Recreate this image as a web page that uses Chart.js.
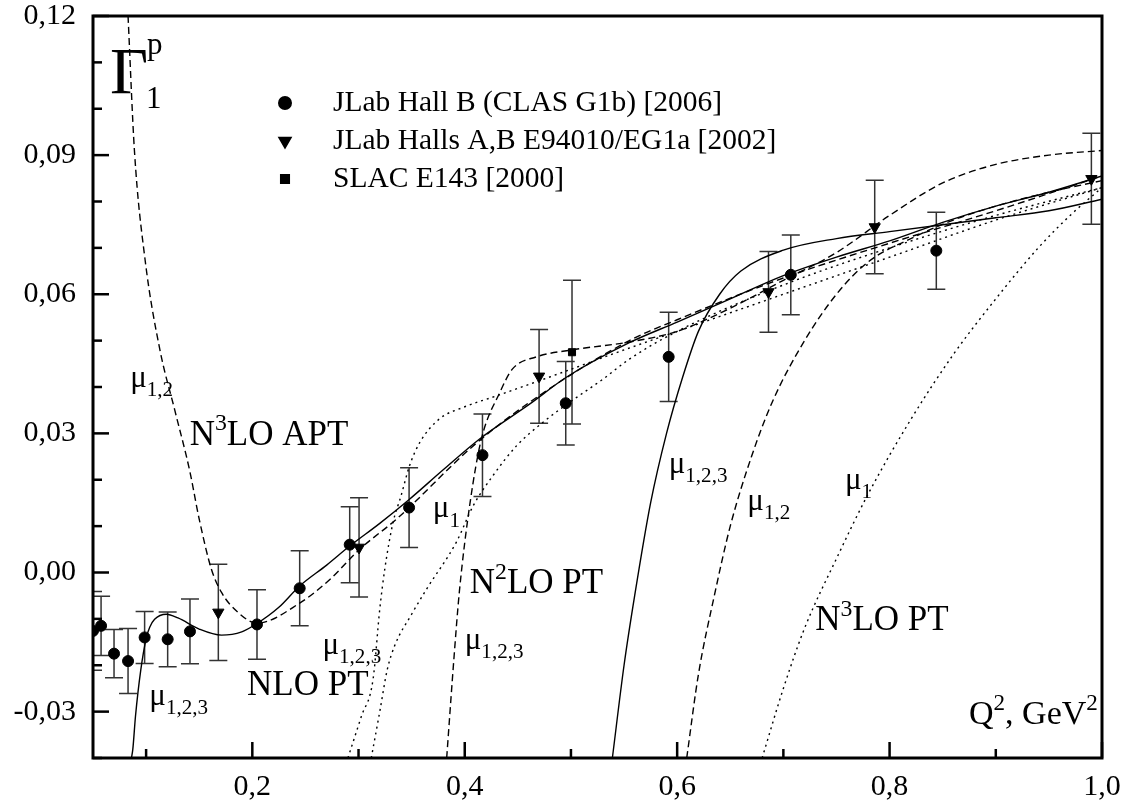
<!DOCTYPE html>
<html>
<head>
<meta charset="utf-8">
<script src="https://cdn.jsdelivr.net/npm/chart.js@4/dist/chart.umd.min.js"></script>
<style>
  html, body { margin: 0; padding: 0; background: #fff; }
  #wrap { width: 1130px; height: 811px; }
</style>
</head>
<body>
<div id="wrap"><canvas id="chart" width="1130" height="811"></canvas></div>
<script>
// ---------- data ----------

// JLab Hall B (CLAS EG1b) [2006]
const clasQ2  = [0.050, 0.0576, 0.0698, 0.0830, 0.0986, 0.1203, 0.1413, 0.2044, 0.2446, 0.2917, 0.3476, 0.4167, 0.4951, 0.592, 0.707, 0.844];
const clasG1  = [-0.0126, -0.0115, -0.0175, -0.0191, -0.0140, -0.0144, -0.0127, -0.0112, -0.0034, 0.0060, 0.0140, 0.0253, 0.0365, 0.0465, 0.0642, 0.0694];
const clasErr = [0.0085, 0.0064, 0.0052, 0.0070, 0.0056, 0.0059, 0.0070, 0.0075, 0.0081, 0.0082, 0.0086, 0.0089, 0.0090, 0.0096, 0.0086, 0.0083];

// JLab Halls A,B E94010/EG1a [2002]
const eg1aQ2  = [0.168, 0.3005, 0.470, 0.686, 0.786, 0.990];
const eg1aG1  = [-0.0086, 0.0054, 0.0423, 0.0605, 0.0745, 0.0849];
const eg1aErr = [0.0104, 0.0107, 0.0101, 0.0087, 0.0101, 0.0098];

// SLAC E143 [2000]
const slacQ2  = [0.501];
const slacG1  = [0.0475];
const slacErr = [0.0155];

// curves
const aptSolidQ2 = [0.0862, 0.0875, 0.090, 0.095, 0.1003, 0.1034, 0.108, 0.119, 0.130, 0.150, 0.171, 0.190, 0.2044, 0.225, 0.2446, 0.270, 0.2917, 0.320, 0.348, 0.380, 0.414, 0.461, 0.4957, 0.5554, 0.60, 0.65, 0.70, 0.75, 0.80, 0.85, 0.90, 0.95, 1.00];
const aptSolidG1 = [-0.0400, -0.0381, -0.031, -0.021, -0.0140, -0.0118, -0.0101, -0.0090, -0.0098, -0.0122, -0.0135, -0.0128, -0.0110, -0.0075, -0.0029, 0.0016, 0.0057, 0.0106, 0.0158, 0.0222, 0.0288, 0.0363, 0.0421, 0.0496, 0.0540, 0.0590, 0.0640, 0.0680, 0.0715, 0.0755, 0.0790, 0.0820, 0.0855];

const aptDashQ2 = [0.083, 0.089, 0.099, 0.113, 0.127, 0.141, 0.150, 0.1615, 0.171, 0.1865, 0.2044, 0.2446, 0.273, 0.301, 0.3357, 0.408, 0.461, 0.555, 0.60, 0.70, 0.80, 0.90, 1.00];
const aptDashG1 = [0.120, 0.091, 0.0675, 0.048, 0.035, 0.022, 0.0115, 0.0007, -0.0043, -0.0086, -0.0109, -0.0066, -0.0015, 0.0050, 0.0115, 0.0273, 0.0367, 0.0500, 0.0545, 0.0635, 0.0710, 0.0780, 0.0855];

const nloDotQ2 = [0.290, 0.3027, 0.3137, 0.320, 0.3247, 0.3325, 0.340, 0.348, 0.3576, 0.376, 0.3985, 0.430, 0.461, 0.4926, 0.55, 0.60, 0.70, 0.80, 0.90, 1.00];
const nloDotG1 = [-0.040, -0.031, -0.023, -0.0079, 0.0007, 0.0108, 0.0165, 0.0230, 0.0280, 0.0331, 0.0356, 0.0381, 0.0406, 0.0432, 0.0480, 0.0520, 0.0600, 0.0680, 0.0760, 0.0830];

const n2loDotQ2 = [0.312, 0.320, 0.327, 0.334, 0.350, 0.364, 0.392, 0.408, 0.4266, 0.4487, 0.4737, 0.4988, 0.5302, 0.555, 0.60, 0.70, 0.80, 0.90, 1.00];
const n2loDotG1 = [-0.040, -0.030, -0.021, -0.0158, -0.0090, -0.0036, 0.0065, 0.0144, 0.0209, 0.0273, 0.0324, 0.0367, 0.0417, 0.0460, 0.0520, 0.0620, 0.0700, 0.0770, 0.0830];

const n2loDashQ2 = [0.383, 0.390, 0.395, 0.405, 0.4157, 0.433, 0.445, 0.4675, 0.5008, 0.555, 0.60, 0.65, 0.70, 0.75, 0.80, 0.85, 0.90, 0.95, 1.00];
const n2loDashG1 = [-0.040, -0.018, -0.004, 0.015, 0.0288, 0.0388, 0.0439, 0.0465, 0.0480, 0.0497, 0.0520, 0.0570, 0.0630, 0.0690, 0.0770, 0.0840, 0.0880, 0.0900, 0.0910];

const n3loSolidQ2 = [0.539, 0.550, 0.560, 0.575, 0.590, 0.605, 0.620, 0.640, 0.660, 0.700, 0.750, 0.800, 0.850, 0.900, 0.950, 1.000];
const n3loSolidG1 = [-0.040, -0.020, -0.005, 0.015, 0.030, 0.042, 0.052, 0.060, 0.065, 0.0695, 0.0720, 0.0735, 0.0750, 0.0765, 0.0780, 0.0805];

const n3loDashQ2 = [0.609, 0.620, 0.635, 0.650, 0.670, 0.690, 0.720, 0.750, 0.780, 0.820, 0.860, 0.900, 0.950, 1.000];
const n3loDashG1 = [-0.040, -0.022, -0.005, 0.010, 0.025, 0.037, 0.050, 0.060, 0.067, 0.072, 0.076, 0.079, 0.082, 0.0845];

const n3loDotQ2 = [0.680, 0.700, 0.720, 0.750, 0.780, 0.820, 0.860, 0.900, 0.940, 0.970, 1.000];
const n3loDotG1 = [-0.040, -0.025, -0.012, 0.003, 0.017, 0.033, 0.047, 0.059, 0.070, 0.077, 0.083];

// axis ticks
const xTicks = [0.1, 0.2, 0.3, 0.4, 0.5, 0.6, 0.7, 0.8, 0.9, 1.0];
const xMajor = [0.2, 0.4, 0.6, 0.8, 1.0];
const yTicks = [-0.04, -0.03, -0.02, -0.01, 0.00, 0.01, 0.02, 0.03, 0.04, 0.05, 0.06, 0.07, 0.08, 0.09, 0.10, 0.11, 0.12];
const yMajor = [-0.03, 0.00, 0.03, 0.06, 0.09, 0.12];

// legend entries
const legendLabels = ['JLab Hall B (CLAS G1b) [2006]', 'JLab Halls A,B E94010/EG1a [2002]', 'SLAC E143 [2000]'];

// text written inside the plot: [x, y, parts]
const notes = [
  [0.085, 0.040, [['μ', 0], ['1,2', -1]]],
  [0.141, 0.0275, [['N', 0], ['3', 1], ['LO APT', 0]]],
  [0.103, -0.0285, [['μ', 0], ['1,2,3', -1]]],
  [0.195, -0.0265, [['NLO PT', 0]]],
  [0.266, -0.0176, [['μ', 0], ['1,2,3', -1]]],
  [0.370, 0.0119, [['μ', 0], ['1', -1]]],
  [0.4047, -0.0045, [['N', 0], ['2', 1], ['LO PT', 0]]],
  [0.400, -0.0165, [['μ', 0], ['1,2,3', -1]]],
  [0.592, 0.0215, [['μ', 0], ['1,2,3', -1]]],
  [0.666, 0.0135, [['μ', 0], ['1,2', -1]]],
  [0.758, 0.018, [['μ', 0], ['1', -1]]],
  [0.730, -0.0125, [['N', 0], ['3', 1], ['LO PT', 0]]]
];

// ---------- helpers ----------
const SERIF = '"Liberation Serif", "Times New Roman", serif';
const pts = (xs, ys) => xs.map((x, i) => ({ x: x, y: ys[i] }));
const close = (a, b) => Math.abs(a - b) < 1e-9;

function drawParts(ctx, x, y, parts, size) {
  ctx.textBaseline = 'alphabetic';
  ctx.textAlign = 'left';
  parts.forEach(p => {
    const s = p[1] === 0 ? size : size * 0.68;
    const dy = p[1] === 0 ? 0 : (p[1] > 0 ? -size * 0.42 : size * 0.3);
    ctx.font = s + 'px ' + SERIF;
    ctx.fillText(p[0], x, y + dy);
    x += ctx.measureText(p[0]).width;
  });
}

const curveSet = (xs, ys, dash) => ({
  type: 'line',
  data: pts(xs, ys),
  borderColor: '#000',
  borderWidth: 1.4,
  borderDash: dash,
  pointRadius: 0,
  cubicInterpolationMode: 'monotone',
  fill: false
});

const errorBars = {
  id: 'errorBars',
  beforeDatasetsDraw(chart) {
    const { ctx, chartArea: a, scales: { x, y } } = chart;
    ctx.save();
    ctx.beginPath();
    ctx.rect(a.left, a.top, a.right - a.left, a.bottom - a.top);
    ctx.clip();
    ctx.strokeStyle = '#333';
    ctx.lineWidth = 1.5;
    [[clasQ2, clasG1, clasErr], [eg1aQ2, eg1aG1, eg1aErr], [slacQ2, slacG1, slacErr]].forEach(([qs, gs, es]) => {
      qs.forEach((q, i) => {
        const px = x.getPixelForValue(q);
        const y1 = y.getPixelForValue(gs[i] + es[i]);
        const y2 = y.getPixelForValue(gs[i] - es[i]);
        ctx.beginPath();
        ctx.moveTo(px, y1); ctx.lineTo(px, y2);
        ctx.moveTo(px - 9, y1); ctx.lineTo(px + 9, y1);
        ctx.moveTo(px - 9, y2); ctx.lineTo(px + 9, y2);
        ctx.stroke();
      });
    });
    ctx.restore();
  }
};

const frameAndText = {
  id: 'frameAndText',
  afterDatasetsDraw(chart) {
    const { ctx, chartArea: a, scales: { x, y } } = chart;
    ctx.save();
    ctx.strokeStyle = '#000';
    ctx.lineWidth = 2.5;
    // inward ticks
    xTicks.forEach(v => {
      const px = x.getPixelForValue(v);
      const len = xMajor.some(m => close(m, v)) ? 16 : 9;
      ctx.beginPath();
      ctx.moveTo(px, a.bottom); ctx.lineTo(px, a.bottom - len);
      ctx.stroke();
    });
    yTicks.forEach(v => {
      const py = y.getPixelForValue(v);
      const len = yMajor.some(m => close(m, v)) ? 16 : 9;
      ctx.beginPath();
      ctx.moveTo(a.left, py); ctx.lineTo(a.left + len, py);
      ctx.stroke();
    });
    ctx.lineWidth = 3;
    ctx.strokeRect(a.left, a.top, a.right - a.left, a.bottom - a.top);

    ctx.fillStyle = '#000';
    // axis titles
    drawParts(ctx, a.left + 17, a.top + 77, [['Γ', 0]], 66);
    drawParts(ctx, a.left + 54, a.top + 38, [['p', 0]], 31);
    drawParts(ctx, a.left + 53, a.top + 92, [['1', 0]], 31);
    drawParts(ctx, a.right - 133, a.bottom - 34, [['Q', 0], ['2', 1], [', GeV', 0], ['2', 1]], 34);

    notes.forEach(n => {
      const big = n[2].length === 1 || n[2][0][0] !== 'μ';
      drawParts(ctx, x.getPixelForValue(n[0]), y.getPixelForValue(n[1]), n[2], big ? 35 : 31);
    });

    // legend
    const styles = ['circle', 'triangle', 'rect'];
    legendLabels.forEach((t, i) => {
      const ly = 103 + i * 38;
      const opts = { pointStyle: styles[i], radius: styles[i] === 'rect' ? 5 : 5.5, rotation: styles[i] === 'triangle' ? 180 : 0, borderWidth: 1 };
      ctx.fillStyle = '#000';
      ctx.strokeStyle = '#000';
      Chart.helpers.drawPoint(ctx, opts, 285, ly);
      ctx.font = '29.5px ' + SERIF;
      ctx.textBaseline = 'middle';
      ctx.textAlign = 'left';
      ctx.fillText(t, 333, ly);
    });
    ctx.restore();
  }
};

const fmt = (v, d) => v.toFixed(d).replace('.', ',').replace('-0,00', '0,00');

new Chart(document.getElementById('chart'), {
  data: {
    datasets: [
      curveSet(aptSolidQ2, aptSolidG1, []),
      curveSet(aptDashQ2, aptDashG1, [7, 4]),
      curveSet(nloDotQ2, nloDotG1, [2, 4]),
      curveSet(n2loDotQ2, n2loDotG1, [2, 4]),
      curveSet(n2loDashQ2, n2loDashG1, [7, 4]),
      curveSet(n3loSolidQ2, n3loSolidG1, []),
      curveSet(n3loDashQ2, n3loDashG1, [7, 4]),
      curveSet(n3loDotQ2, n3loDotG1, [2, 4]),
      { type: 'scatter', data: pts(clasQ2, clasG1), pointStyle: 'circle', pointRadius: 5.5, backgroundColor: '#000', borderColor: '#000' },
      { type: 'scatter', data: pts(eg1aQ2, eg1aG1), pointStyle: 'triangle', rotation: 180, pointRadius: 6.5, backgroundColor: '#000', borderColor: '#000' },
      { type: 'scatter', data: pts(slacQ2, slacG1), pointStyle: 'rect', pointRadius: 5, backgroundColor: '#000', borderColor: '#000' }
    ]
  },
  options: {
    responsive: false,
    animation: false,
    layout: { padding: 0 },
    plugins: { legend: { display: false }, tooltip: { enabled: false } },
    scales: {
      x: {
        type: 'linear', min: 0.05, max: 1.0,
        afterBuildTicks: s => { s.ticks = xTicks.map(v => ({ value: v })); },
        afterFit: s => { s.height = 53; s.paddingLeft = 0; s.paddingRight = 28; },
        grid: { display: false, drawTicks: false },
        border: { display: false },
        ticks: {
          padding: 14, color: '#000', maxRotation: 0, autoSkip: false,
          font: { family: SERIF, size: 30, lineHeight: 1 },
          callback: v => xMajor.some(m => close(m, v)) ? fmt(v, 1) : ''
        }
      },
      y: {
        type: 'linear', min: -0.04, max: 0.12,
        afterBuildTicks: s => { s.ticks = yTicks.map(v => ({ value: v })); },
        afterFit: s => { s.width = 93; s.paddingTop = 16; s.paddingBottom = 0; },
        grid: { display: false, drawTicks: false },
        border: { display: false },
        ticks: {
          padding: 17, color: '#000', autoSkip: false,
          font: { family: SERIF, size: 30, lineHeight: 1 },
          callback: v => yMajor.some(m => close(m, v)) ? fmt(v, 2) : ''
        }
      }
    }
  },
  plugins: [errorBars, frameAndText]
});
</script>
</body>
</html>
